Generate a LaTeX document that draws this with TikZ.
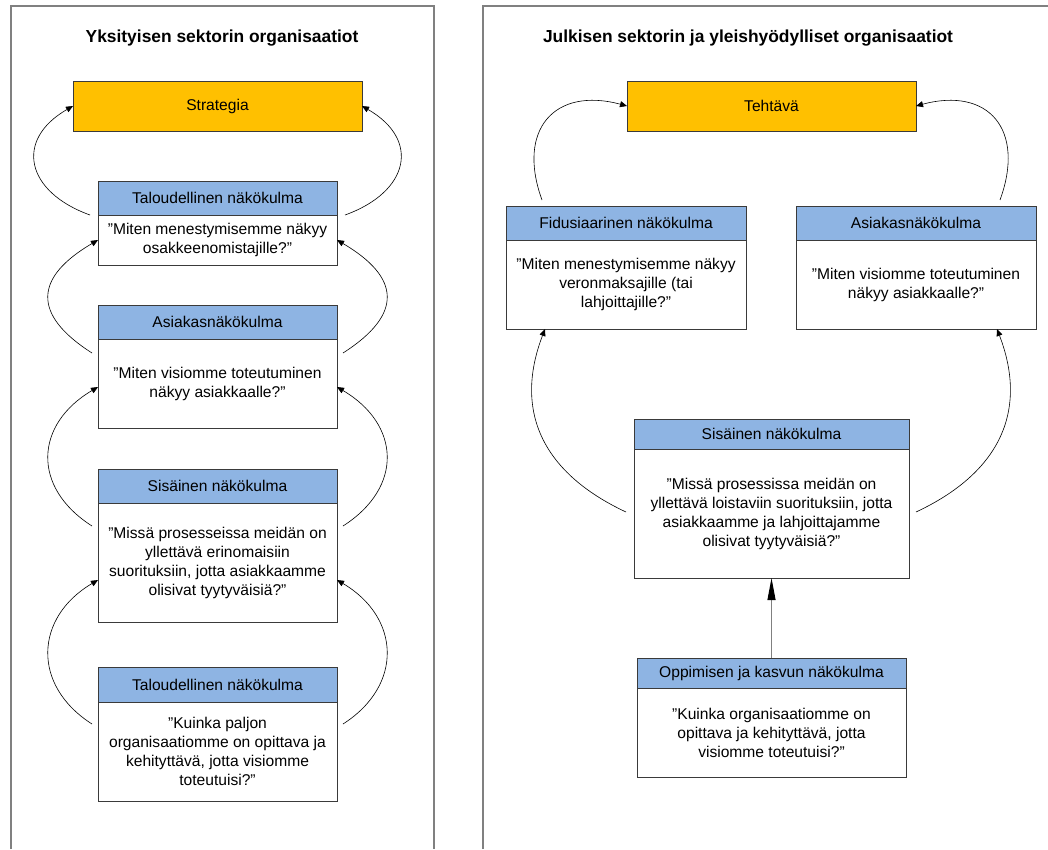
\documentclass[tikz,border=0pt]{standalone}
\usepackage{fontspec}
\setmainfont{Liberation Sans}
\usetikzlibrary{arrows.meta}
\definecolor{hdrblue}{HTML}{8EB4E3}
\definecolor{goldbox}{HTML}{FFC000}
\definecolor{framegray}{HTML}{808080}
\definecolor{edgegray}{HTML}{3A3A3A}

\begin{document}
\begin{tikzpicture}[x=1pt,y=1pt,
  panel/.style={draw=framegray, line width=1.4pt},
  heading/.style={font=\fontsize{17.4}{20}\selectfont\bfseries},
  boxbase/.style={draw=edgegray, line width=0.9pt, anchor=north west,
    inner sep=0pt, outer sep=0pt, align=center,
    font=\fontsize{15.6}{19}\selectfont},
  goal/.style={boxbase, fill=goldbox},
  hdr/.style={boxbase, fill=hdrblue},
  body/.style={boxbase, fill=white},
  loop/.style={line width=0.6pt, -{Triangle[length=7pt,width=6pt]}},
  uparrow/.style={draw=framegray, line width=1pt,
    -{Triangle[length=22pt,width=8pt,color=black]}}
]
\useasboundingbox (0,0) rectangle (1048,-849);

% panel frames
\draw[panel] (11,-849) -- (11,-6) -- (434,-6) -- (434,-849);
\draw[panel] (483,-849) -- (483,-6) -- (1048,-6);

% ---------- private sector ----------
\node[heading] (ltitle) at (222,-38) {Yksityisen sektorin organisaatiot};

\node[goal, minimum width=289pt, minimum height=50pt] (strat) at (73,-81) {Strategia};

\node[hdr, minimum width=239pt, minimum height=34pt] (h1) at (98,-181) {Taloudellinen näkökulma};
\node[body, minimum width=239pt, minimum height=50pt] (b1) at (98,-215)
  {”Miten menestymisemme näkyy\\osakkeenomistajille?”};

\node[hdr, minimum width=239pt, minimum height=34pt] (h2) at (98,-305) {Asiakasnäkökulma};
\node[body, minimum width=239pt, minimum height=89pt] (b2) at (98,-339)
  {”Miten visiomme toteutuminen\\näkyy asiakkaalle?”};

\node[hdr, minimum width=239pt, minimum height=34pt] (h3) at (98,-469) {Sisäinen näkökulma};
\node[body, minimum width=239pt, minimum height=119pt] (b3) at (98,-503)
  {”Missä prosesseissa meidän on\\yllettävä erinomaisiin\\suorituksiin, jotta asiakkaamme\\olisivat tyytyväisiä?”};

\node[hdr, minimum width=239pt, minimum height=35pt] (h4) at (98,-667) {Taloudellinen näkökulma};
\node[body, minimum width=239pt, minimum height=99pt] (b4) at (98,-702)
  {”Kuinka paljon\\organisaatiomme on opittava ja\\kehityttävä, jotta visiomme\\toteutuisi?”};

% loose ends of the feedback loops
\coordinate (l1) at (90,-215);  \coordinate (r1) at (345,-215);
\coordinate (l2) at (92,-353);  \coordinate (r2) at (343,-353);
\coordinate (l3) at (92,-526);  \coordinate (r3) at (343,-526);
\coordinate (l4) at (92,-724);  \coordinate (r4) at (343,-724);

\draw[loop] (l1) .. controls +(-64,23) and +(-59,-34) .. (strat.west);
\draw[loop] (r1) .. controls +(64,23) and +(59,-34) .. (strat.east);
\draw[loop] (l2) .. controls +(-61,39) and +(-63,-37) .. (b1.west);
\draw[loop] (r2) .. controls +(61,39) and +(63,-37) .. (b1.east);
\draw[loop] (l3) .. controls +(-61,39) and +(-63,-37) .. ([yshift=-3.5pt]b2.west);
\draw[loop] (r3) .. controls +(61,39) and +(63,-37) .. ([yshift=-3.5pt]b2.east);
\draw[loop] (l4) .. controls +(-61,39) and +(-63,-37) .. ([yshift=-17.5pt]b3.west);
\draw[loop] (r4) .. controls +(61,39) and +(63,-37) .. ([yshift=-17.5pt]b3.east);

% ---------- public sector and non-profit ----------
\node[heading] (rtitle) at (748,-38) {Julkisen sektorin ja yleishyödylliset organisaatiot};

\node[goal, minimum width=289pt, minimum height=50pt] (task) at (627,-81) {Tehtävä};

\node[hdr, minimum width=240pt, minimum height=34pt] (fh) at (506,-206) {Fidusiaarinen näkökulma};
\node[body, minimum width=240pt, minimum height=89pt] (fb) at (506,-240)
  {”Miten menestymisemme näkyy\\veronmaksajille (tai\\lahjoittajille?”};

\node[hdr, minimum width=240pt, minimum height=34pt] (ah) at (796,-206) {Asiakasnäkökulma};
\node[body, minimum width=240pt, minimum height=89pt] (ab) at (796,-240)
  {”Miten visiomme toteutuminen\\näkyy asiakkaalle?”};

\node[hdr, minimum width=275pt, minimum height=30pt] (sh) at (634,-419) {Sisäinen näkökulma};
\node[body, minimum width=275pt, minimum height=129pt] (sb) at (634,-449)
  {”Missä prosessissa meidän on\\yllettävä loistaviin suorituksiin, jotta\\asiakkaamme ja lahjoittajamme\\olisivat tyytyväisiä?”};

\node[hdr, minimum width=269pt, minimum height=30pt] (oh) at (637,-658) {Oppimisen ja kasvun näkökulma};
\node[body, minimum width=269pt, minimum height=89pt] (ob) at (637,-688)
  {”Kuinka organisaatiomme on\\opittava ja kehityttävä, jotta\\visiomme toteutuisi?”};

\coordinate (fl) at (542,-200);  \coordinate (ar) at (1000,-200);
\coordinate (sl) at (626,-512);  \coordinate (sr) at (916,-512);

\draw[loop] (fl) .. controls +(-25.7,70.5) and +(-72.4,19.4) .. (task.west);
\draw[loop] (ar) .. controls +(25.7,70.5) and +(72.4,19.4) .. (task.east);
\draw[loop] (sl) .. controls +(-81.5,38.1) and +(-32.2,-84.1) .. ([xshift=-81pt]fb.south);
\draw[loop] (sr) .. controls +(81.5,38.1) and +(32.2,-84.1) .. ([xshift=81pt]ab.south);

\draw[uparrow] (oh.north) -- (sb.south);
\end{tikzpicture}
\end{document}
